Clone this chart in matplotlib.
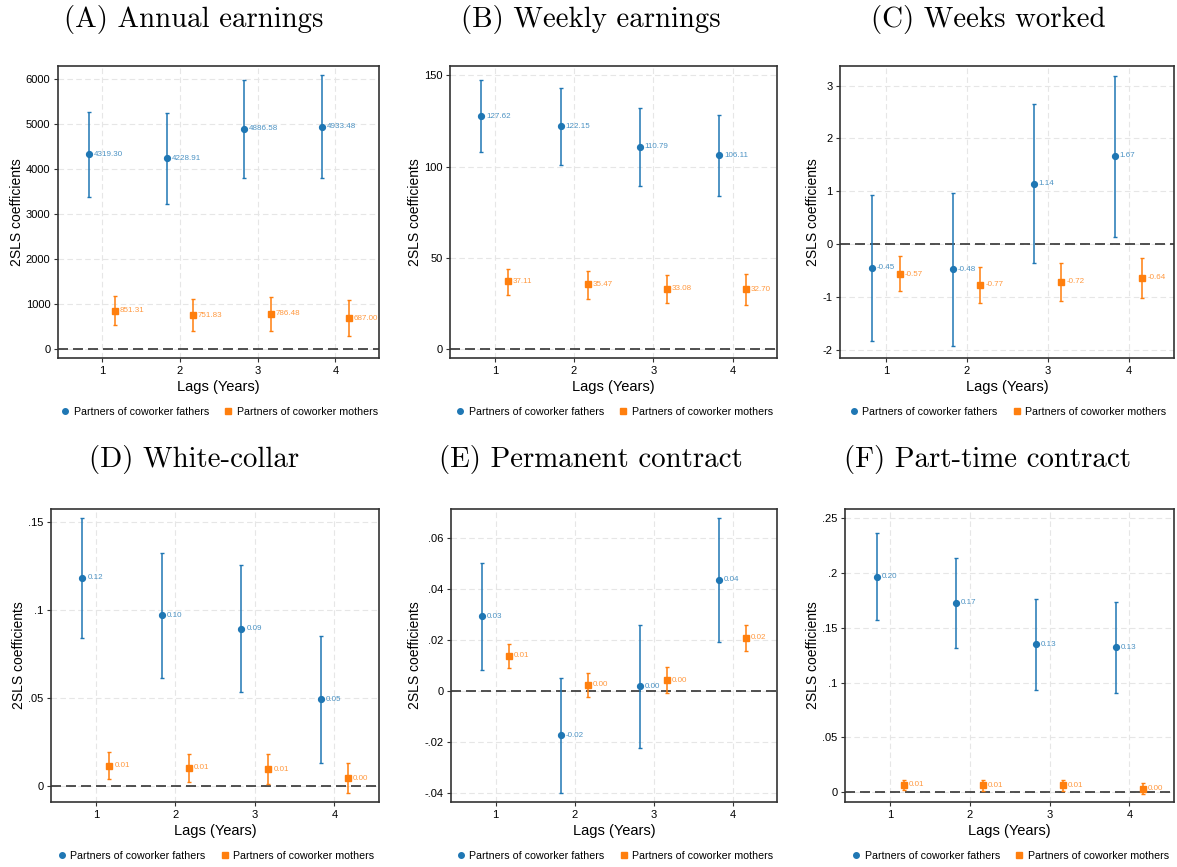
import matplotlib
matplotlib.use("Agg")
import matplotlib.pyplot as plt
from matplotlib.lines import Line2D
from matplotlib.ticker import FuncFormatter
import numpy as np

plt.rcParams['font.family'] = ['Liberation Sans', 'DejaVu Sans']

# ---- data ----
lags = [1, 2, 3, 4]

annual_f = [4319.30, 4228.91, 4886.58, 4933.48]
annual_f_lo = [3373, 3210, 3786, 3786]
annual_f_hi = [5262, 5247, 5978, 6081]
annual_m = [851.31, 751.83, 786.48, 687.00]
annual_m_lo = [524, 391, 406, 280]
annual_m_hi = [1166, 1107, 1159, 1085]

weekly_f = [127.62, 122.15, 110.79, 106.11]
weekly_f_lo = [107.9, 101.0, 89.1, 83.8]
weekly_f_hi = [147.4, 143.1, 132.1, 128.5]
weekly_m = [37.11, 35.47, 33.08, 32.70]
weekly_m_lo = [29.7, 27.7, 25.2, 24.1]
weekly_m_hi = [44.1, 43.0, 40.8, 41.0]

weeks_f = [-0.45, -0.48, 1.14, 1.67]
weeks_f_lo = [-1.84, -1.94, -0.37, 0.14]
weeks_f_hi = [0.93, 0.97, 2.645, 3.19]
weeks_m = [-0.57, -0.77, -0.72, -0.64]
weeks_m_lo = [-0.90, -1.127, -1.089, -1.02]
weeks_m_hi = [-0.233, -0.428, -0.353, -0.258]

white_f = [0.1183, 0.0971, 0.0893, 0.0493]
white_f_lo = [0.0844, 0.0616, 0.0533, 0.0131]
white_f_hi = [0.1523, 0.1324, 0.1254, 0.0855]
white_m = [0.0116, 0.0104, 0.0097, 0.0046]
white_m_lo = [0.0040, 0.0027, 0.0015, -0.0040]
white_m_hi = [0.0195, 0.0186, 0.0182, 0.0133]

perm_f = [0.0294, -0.0174, 0.0018, 0.0436]
perm_f_lo = [0.0084, -0.0401, -0.0223, 0.0191]
perm_f_hi = [0.0502, 0.0051, 0.0259, 0.0679]
perm_m = [0.0138, 0.0025, 0.0043, 0.0210]
perm_m_lo = [0.0092, -0.0025, -0.0007, 0.0159]
perm_m_hi = [0.0184, 0.0072, 0.0096, 0.0261]

part_f = [0.1964, 0.1727, 0.1349, 0.1322]
part_f_lo = [0.1574, 0.1318, 0.0935, 0.0904]
part_f_hi = [0.2360, 0.2132, 0.1760, 0.1736]
part_m = [0.0070, 0.0064, 0.0064, 0.0034]
part_m_lo = [0.0024, 0.0015, 0.0015, -0.0012]
part_m_hi = [0.0113, 0.0113, 0.0113, 0.0085]

titles = ["(A) Annual earnings", "(B) Weekly earnings", "(C) Weeks worked",
          "(D) White-collar", "(E) Permanent contract", "(F) Part-time contract"]

# ---- layout (pixels in a 1177x867 canvas) ----
W, H = 1177, 867
boxes = [(58, 66, 379, 358), (450, 66, 777, 358), (840, 66, 1174, 358),
         (51, 509, 379, 802), (451, 509, 777, 802), (845, 509, 1174, 802)]
title_x = [194, 591, 988, 194, 591, 988]
title_y = [19, 19, 19, 460, 460, 460]

panels = [
    (annual_f, annual_f_lo, annual_f_hi, annual_m, annual_m_lo, annual_m_hi,
     [0, 1000, 2000, 3000, 4000, 5000, 6000], (-200, 6280)),
    (weekly_f, weekly_f_lo, weekly_f_hi, weekly_m, weekly_m_lo, weekly_m_hi,
     [0, 50, 100, 150], (-4.9, 155.1)),
    (weeks_f, weeks_f_lo, weeks_f_hi, weeks_m, weeks_m_lo, weeks_m_hi,
     [-2, -1, 0, 1, 2, 3], (-2.16, 3.37)),
    (white_f, white_f_lo, white_f_hi, white_m, white_m_lo, white_m_hi,
     [0, 0.05, 0.1, 0.15], (-0.0089, 0.1574)),
    (perm_f, perm_f_lo, perm_f_hi, perm_m, perm_m_lo, perm_m_hi,
     [-0.04, -0.02, 0, 0.02, 0.04, 0.06], (-0.0435, 0.0714)),
    (part_f, part_f_lo, part_f_hi, part_m, part_m_lo, part_m_hi,
     [0, 0.05, 0.1, 0.15, 0.2, 0.25], (-0.0088, 0.2582)),
]

blue = '#1f77b4'
orange = '#ff7f0e'
off = 0.17


def stata_fmt(v, pos=None):
    # Stata style: no leading zero (.05, -.02)
    s = f"{v:g}"
    if s.startswith("0."):
        s = s[1:]
    elif s.startswith("-0."):
        s = "-" + s[2:]
    return s


fig = plt.figure(figsize=(W / 100, H / 100), dpi=100)

for i, (f, flo, fhi, m, mlo, mhi, yt, ylim) in enumerate(panels):
    x0, y0, x1, y1 = boxes[i]
    ax = fig.add_axes([x0 / W, 1 - y1 / H, (x1 - x0) / W, (y1 - y0) / H])
    xf = np.array(lags) - off
    xm = np.array(lags) + off
    f, flo, fhi = map(np.array, (f, flo, fhi))
    m, mlo, mhi = map(np.array, (m, mlo, mhi))

    ax.axhline(0, color='#333333', lw=1.2, ls=(0, (6, 3)), zorder=1)
    ax.errorbar(xf, f, yerr=[f - flo, fhi - f], fmt='o', color=blue, ms=4.2,
                elinewidth=1.1, capsize=1.6, capthick=1.0, zorder=3)
    ax.errorbar(xm, m, yerr=[m - mlo, mhi - m], fmt='s', color=orange, ms=4.4,
                elinewidth=1.1, capsize=1.6, capthick=1.0, zorder=3)
    for xx, v in zip(xf, f):
        ax.annotate(f"{v:.2f}", (xx, v), xytext=(3.5, 0), textcoords='offset points',
                    va='center', ha='left', fontsize=5.8, color=blue, alpha=0.8)
    for xx, v in zip(xm, m):
        ax.annotate(f"{v:.2f}", (xx, v), xytext=(3.5, 0), textcoords='offset points',
                    va='center', ha='left', fontsize=5.8, color=orange, alpha=0.8)

    ax.set_xlim(0.435, 4.56)
    ax.set_ylim(*ylim)
    ax.set_xticks(lags)
    ax.set_yticks(yt)
    ax.yaxis.set_major_formatter(FuncFormatter(stata_fmt))
    ax.tick_params(labelsize=8, length=3, width=0.8, color='#333333', pad=2.5)
    ax.grid(True, ls=(0, (5, 3)), color='#e6e6e6', lw=0.8, zorder=0)
    ax.set_axisbelow(True)
    for s in ax.spines.values():
        s.set_color('#333333')
        s.set_linewidth(1.2)

    ax.set_xlabel("Lags (Years)", fontsize=10.5, labelpad=3)
    ax.set_ylabel("2SLS coefficients", fontsize=10, labelpad=1.5)

    handles = [Line2D([], [], marker='o', ls='', color=blue, ms=4),
               Line2D([], [], marker='s', ls='', color=orange, ms=4.4)]
    ax.legend(handles, ["Partners of coworker fathers", "Partners of coworker mothers"],
              loc='center', bbox_to_anchor=(0.5, -0.185), ncol=2, frameon=False,
              fontsize=7.7, handletextpad=0.2, columnspacing=1.2, handlelength=1.2)

    fig.text(title_x[i] / W, 1 - title_y[i] / H, titles[i], family='cmr10',
             fontsize=20.8, ha='center', va='center')

fig.savefig("out.png", dpi=100)
